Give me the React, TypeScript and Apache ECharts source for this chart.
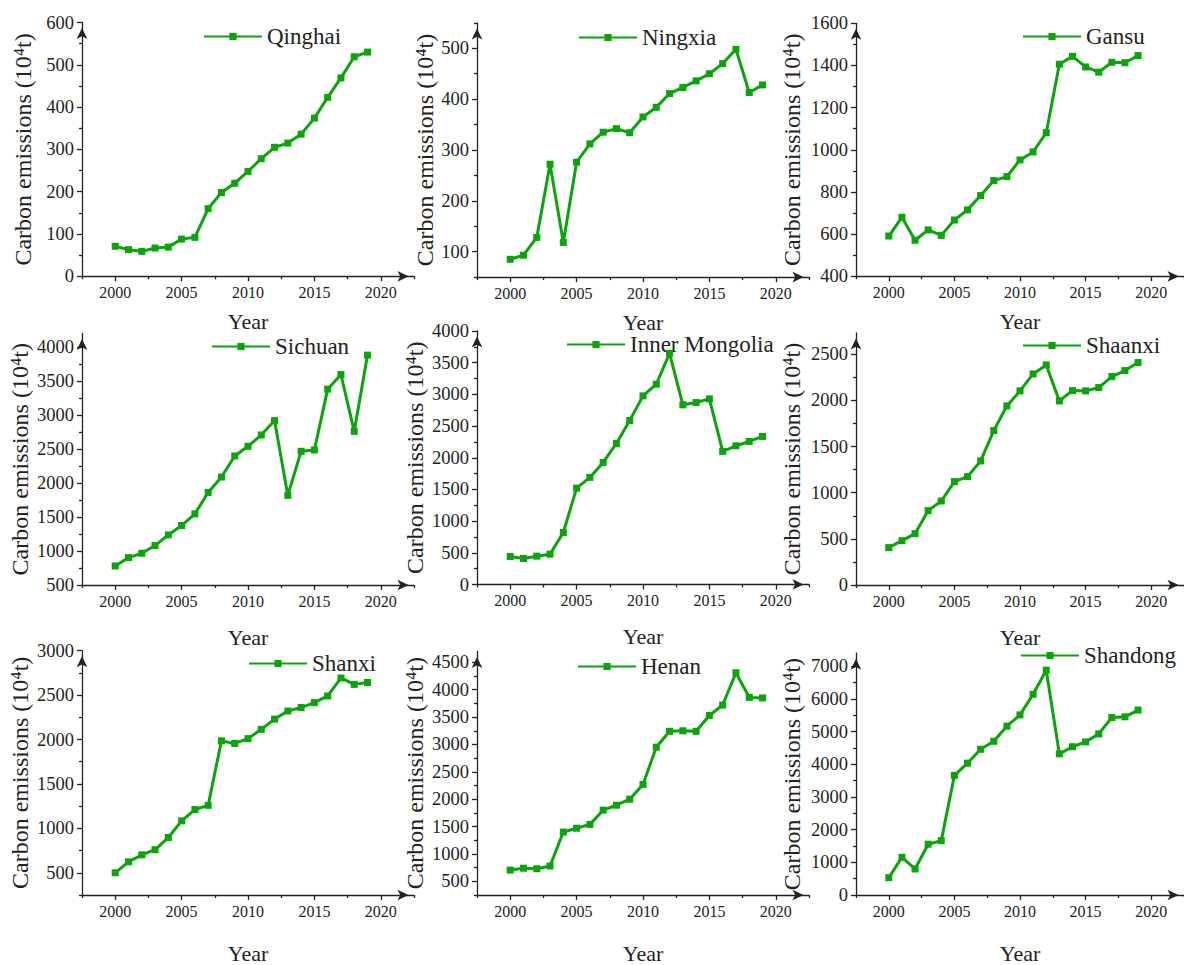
import React, { useEffect, useRef } from "react";
import * as echarts from "echarts";

// Years on the horizontal axis
const years = [
  2000, 2001, 2002, 2003, 2004, 2005, 2006, 2007, 2008, 2009,
  2010, 2011, 2012, 2013, 2014, 2015, 2016, 2017, 2018, 2019,
];

// Carbon emissions per province (10^4 t)
const qinghai = [71, 63, 59, 67, 69, 88, 92, 160, 198, 220, 248, 278, 305, 315, 336, 374, 423, 469, 519, 530];
const ningxia = [85, 93, 128, 272, 118, 276, 312, 335, 342, 334, 365, 384, 411, 423, 436, 450, 470, 498, 413, 428];
const gansu = [591, 680, 571, 620, 594, 667, 715, 783, 854, 873, 952, 990, 1081, 1406, 1443, 1393, 1368, 1415, 1413, 1447];
const sichuan = [780, 903, 967, 1080, 1237, 1375, 1547, 1862, 2088, 2398, 2540, 2707, 2919, 1818, 2467, 2486, 3381, 3597, 2761, 3882];
const innerMongolia = [442, 410, 447, 479, 820, 1520, 1690, 1926, 2226, 2588, 2976, 3160, 3648, 2835, 2871, 2929, 2100, 2189, 2257, 2336];
const shaanxi = [405, 480, 556, 806, 910, 1120, 1174, 1344, 1673, 1940, 2103, 2287, 2384, 1994, 2106, 2103, 2139, 2258, 2323, 2410];
const shanxi = [500, 623, 702, 760, 897, 1085, 1212, 1259, 1985, 1956, 2010, 2115, 2230, 2321, 2360, 2415, 2491, 2693, 2621, 2642];
const henan = [705, 740, 730, 780, 1400, 1470, 1540, 1800, 1890, 2000, 2270, 2950, 3240, 3250, 3240, 3530, 3720, 4310, 3860, 3850];
const shandong = [531, 1152, 797, 1555, 1663, 3661, 4035, 4459, 4705, 5167, 5512, 6142, 6880, 4321, 4537, 4685, 4931, 5433, 5453, 5659];

// Tick labels
const xTicks = [2000, 2005, 2010, 2015, 2020];
const qinghaiTicks = [0, 100, 200, 300, 400, 500, 600];
const ningxiaTicks = [100, 200, 300, 400, 500];
const gansuTicks = [400, 600, 800, 1000, 1200, 1400, 1600];
const sichuanTicks = [500, 1000, 1500, 2000, 2500, 3000, 3500, 4000];
const innerMongoliaTicks = [0, 500, 1000, 1500, 2000, 2500, 3000, 3500, 4000];
const shaanxiTicks = [0, 500, 1000, 1500, 2000, 2500];
const shanxiTicks = [500, 1000, 1500, 2000, 2500, 3000];
const henanTicks = [500, 1000, 1500, 2000, 2500, 3000, 3500, 4000, 4500];
const shandongTicks = [0, 1000, 2000, 3000, 4000, 5000, 6000, 7000];

const panels = [
  { name: "Qinghai", values: qinghai, ticks: qinghaiTicks, min: 0, max: 600 },
  { name: "Ningxia", values: ningxia, ticks: ningxiaTicks, min: 50, max: 550 },
  { name: "Gansu", values: gansu, ticks: gansuTicks, min: 400, max: 1600 },
  { name: "Sichuan", values: sichuan, ticks: sichuanTicks, min: 500, max: 4200 },
  { name: "Inner Mongolia", values: innerMongolia, ticks: innerMongoliaTicks, min: 0, max: 4000 },
  { name: "Shaanxi", values: shaanxi, ticks: shaanxiTicks, min: 0, max: 2730 },
  { name: "Shanxi", values: shanxi, ticks: shanxiTicks, min: 250, max: 3000 },
  { name: "Henan", values: henan, ticks: henanTicks, min: 250, max: 4700 },
  { name: "Shandong", values: shandong, ticks: shandongTicks, min: 0, max: 7400 },
];

// Placement of each small plot on the page
const layout = [
  { left: 82, top: 22.5, bottom: 276.3, nameGap: 47, yearGap: 34, legendLeft: 203, legendTop: 25 },
  { left: 477, top: 22.9, bottom: 277.1, nameGap: 39, yearGap: 34, legendLeft: 578, legendTop: 26 },
  { left: 856, top: 23.3, bottom: 276.3, nameGap: 52, yearGap: 34, legendLeft: 1022, legendTop: 25 },
  { left: 82, top: 333.5, bottom: 585, nameGap: 50, yearGap: 41, legendLeft: 211, legendTop: 335 },
  { left: 477, top: 331, bottom: 584.5, nameGap: 50, yearGap: 41, legendLeft: 566, legendTop: 333 },
  { left: 856, top: 333, bottom: 585, nameGap: 52, yearGap: 41, legendLeft: 1022, legendTop: 334 },
  { left: 82, top: 650.7, bottom: 903.7, nameGap: 50, yearGap: 47, legendLeft: 248, legendTop: 652 },
  { left: 477, top: 651.4, bottom: 903.7, nameGap: 50, yearGap: 47, legendLeft: 577, legendTop: 655 },
  { left: 856, top: 653.2, bottom: 903.7, nameGap: 52, yearGap: 47, legendLeft: 1020, legendTop: 644 },
];

const X_MIN = 1997.5;
const X_MAX = 2022.5;
const PLOT_WIDTH = 332;
const GREEN = "#0aa50a";
const INK = "#222222";
const FONT = "Liberation Serif, serif";

// Half-step ticks between the labelled ones, kept inside [min, max]
function minorTicks(major: number[], min: number, max: number): number[] {
  const step = major[1] - major[0];
  const out: number[] = [];
  for (let v = major[0] - step / 2; v <= max + 1e-9; v += step) {
    if (v >= min - 1e-9) out.push(v);
  }
  return out;
}

const plain = (v: number) => String(v);

function textStyle(size: number) {
  return { fontSize: size, fontFamily: FONT, color: INK };
}

function buildOption() {
  const grid: any[] = [];
  const xAxis: any[] = [];
  const yAxis: any[] = [];
  const series: any[] = [];
  const legend: any[] = [];
  const axisLineStyle = { color: INK, width: 1.3 };
  const arrowLine = {
    show: true,
    onZero: false,
    lineStyle: axisLineStyle,
    symbol: ["none", "arrow"],
    symbolSize: [8, 11],
    symbolOffset: [0, -5.5],
  };
  const xMinor = minorTicks(xTicks, X_MIN, X_MAX);

  panels.forEach((p, i) => {
    const l = layout[i];
    grid.push({
      left: l.left,
      top: l.top,
      width: PLOT_WIDTH,
      height: l.bottom - l.top,
      containLabel: false,
    });

    // x axis: line with arrow, labelled ticks and the "Year" title
    xAxis.push({
      type: "value",
      gridIndex: i,
      position: "bottom",
      min: X_MIN,
      max: X_MAX,
      axisLine: arrowLine,
      axisTick: { show: true, inside: false, length: 5, customValues: xTicks, lineStyle: axisLineStyle },
      axisLabel: { show: true, customValues: xTicks, formatter: plain, margin: 8, ...textStyle(16) },
      splitLine: { show: false },
      name: "Year",
      nameLocation: "middle",
      nameGap: l.yearGap,
      nameTextStyle: textStyle(22),
    });
    // short ticks halfway between the year labels
    xAxis.push({
      type: "value",
      gridIndex: i,
      position: "bottom",
      min: X_MIN,
      max: X_MAX,
      axisLine: { show: false, onZero: false },
      axisTick: { show: true, inside: false, length: 3, customValues: xMinor, lineStyle: axisLineStyle },
      axisLabel: { show: false },
      splitLine: { show: false },
    });

    // y axis: line with arrow, labelled ticks and the rotated title
    yAxis.push({
      type: "value",
      gridIndex: i,
      position: "left",
      min: p.min,
      max: p.max,
      axisLine: arrowLine,
      axisTick: { show: true, inside: false, length: 5, customValues: p.ticks, lineStyle: axisLineStyle },
      axisLabel: { show: true, customValues: p.ticks, formatter: plain, margin: 8, ...textStyle(18.5) },
      splitLine: { show: false },
      name: "Carbon emissions (10\u2074t)",
      nameLocation: "middle",
      nameRotate: 90,
      nameGap: l.nameGap,
      nameTextStyle: textStyle(24),
    });
    // short ticks halfway between the value labels
    yAxis.push({
      type: "value",
      gridIndex: i,
      position: "left",
      min: p.min,
      max: p.max,
      axisLine: { show: false, onZero: false },
      axisTick: {
        show: true,
        inside: false,
        length: 3,
        customValues: minorTicks(p.ticks, p.min, p.max),
        lineStyle: axisLineStyle,
      },
      axisLabel: { show: false },
      splitLine: { show: false },
    });

    series.push({
      name: p.name,
      type: "line",
      xAxisIndex: 2 * i,
      yAxisIndex: 2 * i,
      data: years.map((y, k) => [y, p.values[k]]),
      symbol: "rect",
      symbolSize: 7,
      showSymbol: true,
      itemStyle: { color: GREEN },
      lineStyle: { color: GREEN, width: 3 },
      z: 5,
    });

    legend.push({
      data: [p.name],
      left: l.legendLeft,
      top: l.legendTop,
      padding: 0,
      itemWidth: 58,
      itemHeight: 9,
      itemGap: 0,
      selectedMode: false,
      textStyle: textStyle(23),
    });
  });

  return {
    animation: false,
    backgroundColor: "#ffffff",
    textStyle: { fontFamily: FONT, color: INK },
    grid,
    xAxis,
    yAxis,
    series,
    legend,
  };
}

export default function App() {
  const ref = useRef<HTMLDivElement>(null);

  useEffect(() => {
    if (!ref.current) return;
    const chart = echarts.init(ref.current, undefined, { renderer: "svg" });
    chart.setOption(buildOption() as any);
    return () => chart.dispose();
  }, []);

  return (
    <div
      ref={ref}
      style={{ position: "absolute", left: 0, top: 0, width: 1184, height: 965, background: "#fff" }}
    />
  );
}
